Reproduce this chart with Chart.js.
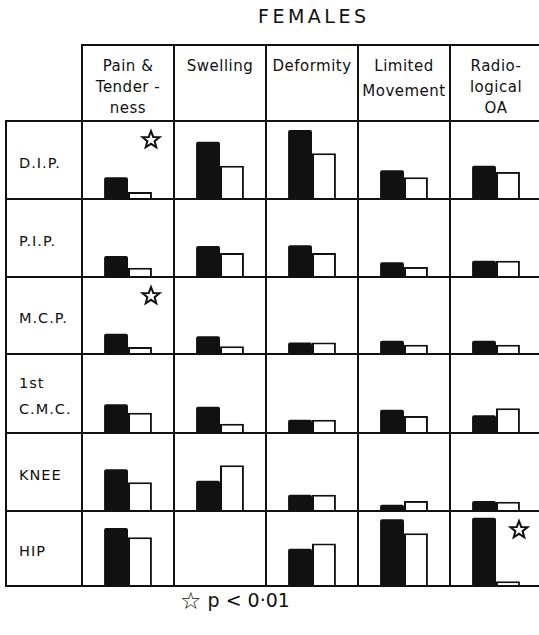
<!DOCTYPE html>
<html lang="en">
<head>
  <meta charset="UTF-8">
  <title>FEMALES</title>
  <script src="https://cdn.jsdelivr.net/npm/chart.js"></script>
  <style>
    body {
      margin: 0;
      width: 539px;
      height: 635px;
      overflow: hidden;
      position: relative;
      background: #fff;
      color: #111;
      font-family: "DejaVu Sans", sans-serif;
    }
    .abs { position: absolute; }
    .line { position: absolute; background: #111; z-index: 5; }
    #title {
      left: 258px;
      top: 4px;
      font-size: 19px;
      letter-spacing: 3.5px;
      line-height: 24px;
    }
    .head {
      width: 92px;
      text-align: center;
      font-size: 15px;
      letter-spacing: 0.5px;
      line-height: 21px;
      top: 56px;
    }
    .joint {
      left: 6px;
      width: 76px;
      display: flex;
      align-items: center;
      padding-left: 13px;
      padding-top: 5px;
      box-sizing: border-box;
      font-size: 14.5px;
      letter-spacing: 1px;
      line-height: 26px;
    }
    #note {
      left: 180px;
      top: 586px;
      font-size: 19px;
      line-height: 28px;
    }
    #note span { font-size: 24px; vertical-align: -2px; }
  </style>
</head>
<body>
  <div id="title" class="abs">FEMALES</div>
  <div id="note" class="abs"><span>☆</span> p &lt; 0·01</div>

  <script>
    // Column headings (features) and row headings (joints)
    const columns = [['Pain &', 'Tender -', 'ness'], ['Swelling'], ['Deformity'], ['Limited', 'Movement'], ['Radio-', 'logical', 'OA']];
    const joints = [['D.I.P.'], ['P.I.P.'], ['M.C.P.'], ['1st', 'C.M.C.'], ['KNEE'], ['HIP']];

    // bar heights, as % of one cell's height
    const blackBars = [
      [28, 74, 89, 37, 43],
      [27, 40, 41, 19, 21],
      [26, 23, 15, 17, 17],
      [37, 34, 17, 30, 23],
      [54, 39, 21, 8, 13],
      [75, null, 48, 86, 88]
    ];
    const whiteBars = [
      [9, 43, 59, 28, 35],
      [12, 31, 31, 13, 21],
      [9, 10, 15, 12, 12],
      [26, 12, 17, 22, 32],
      [37, 59, 21, 13, 12],
      [63, null, 55, 68, 6]
    ];
    // [row, column] pairs with p < 0.01
    const significant = [[0, 0], [2, 0], [5, 4]];

    // grid geometry
    const gridLeft = 82, colW = 92, headTop = 45;
    const rowLines = [121, 199, 277, 354, 433, 511, 586];
    const cellH = 77.5;

    const addLine = (x, y, w, h) => {
      const d = document.createElement('div');
      d.className = 'line';
      d.style.cssText = `left:${x}px;top:${y}px;width:${w}px;height:${h}px`;
      document.body.appendChild(d);
    };
    const gridRight = gridLeft + colW * columns.length;
    addLine(gridLeft - 1, headTop - 1, gridRight - gridLeft + 2, 2);
    rowLines.forEach(y => addLine(5, y - 1, gridRight - 5, 2));
    addLine(5, rowLines[0] - 1, 2, rowLines[6] - rowLines[0] + 2);
    for (let c = 0; c <= columns.length; c++) {
      addLine(gridLeft + colW * c - 1, headTop - 1, 2, rowLines[6] - headTop + 2);
    }

    columns.forEach((lines, c) => {
      const d = document.createElement('div');
      d.className = 'abs head';
      d.style.left = (gridLeft + colW * c) + 'px';
      if (lines.length === 2) { d.style.lineHeight = '25px'; d.style.top = '54px'; }
      d.innerHTML = lines.join('<br>');
      document.body.appendChild(d);
    });

    joints.forEach((lines, r) => {
      const d = document.createElement('div');
      d.className = 'abs joint';
      d.style.top = rowLines[r] + 'px';
      d.style.height = (rowLines[r + 1] - rowLines[r]) + 'px';
      d.innerHTML = '<div>' + lines.join('<br>') + '</div>';
      document.body.appendChild(d);
    });

    const drawStar = (ctx, cx, cy, outer, inner) => {
      ctx.save();
      ctx.beginPath();
      for (let i = 0; i < 10; i++) {
        const a = -Math.PI / 2 + i * Math.PI / 5;
        const rad = i % 2 ? inner : outer;
        ctx.lineTo(cx + rad * Math.cos(a), cy + rad * Math.sin(a));
      }
      ctx.closePath();
      ctx.fillStyle = '#fff';
      ctx.fill();
      ctx.lineWidth = 2;
      ctx.strokeStyle = '#111';
      ctx.stroke();
      ctx.restore();
    };

    const starPlugin = {
      id: 'stars',
      afterDatasetsDraw(chart, args, opts) {
        const x = chart.scales.x;
        significant.filter(s => s[0] === opts.row).forEach(([r, c]) => {
          drawStar(chart.ctx, x.getPixelForValue(c) + 23, chart.chartArea.top + 19, 9, 3.8);
        });
      }
    };

    joints.forEach((j, r) => {
      const h = rowLines[r + 1] - rowLines[r];
      const canvas = document.createElement('canvas');
      canvas.width = colW * columns.length;
      canvas.height = h;
      canvas.className = 'abs';
      canvas.style.left = gridLeft + 'px';
      canvas.style.top = rowLines[r] + 'px';
      document.body.appendChild(canvas);

      new Chart(canvas.getContext('2d'), {
        type: 'bar',
        data: {
          labels: columns.map(c => c.join(' ')),
          datasets: [{
            label: 'black',
            data: blackBars[r],
            backgroundColor: '#111',
            borderWidth: 0,
            borderRadius: { topLeft: 2, topRight: 2 }
          }, {
            label: 'white',
            data: whiteBars[r],
            backgroundColor: '#fff',
            borderColor: '#111',
            borderWidth: 2,
            borderSkipped: 'bottom'
          }]
        },
        options: {
          responsive: false,
          animation: false,
          layout: { padding: 0 },
          categoryPercentage: 0.52,
          barPercentage: 1,
          scales: {
            x: { display: false },
            y: { display: false, min: 0, max: 100 * h / cellH }
          },
          plugins: {
            legend: { display: false },
            tooltip: { enabled: false },
            stars: { row: r }
          }
        },
        plugins: [starPlugin]
      });
    });
  </script>
</body>
</html>
